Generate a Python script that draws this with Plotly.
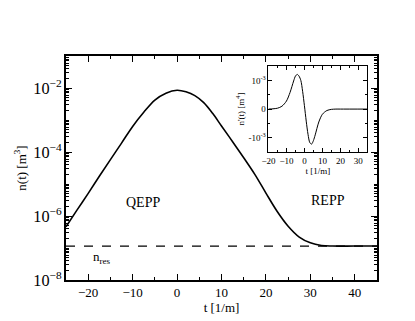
import plotly.graph_objects as go

# Main curve: n(t)
t_main = [-25, -22.5, -20, -17.5, -15, -12.5, -10, -7.5, -5, -2.5, 0, 2, 4, 6, 8, 10,
          12.5, 15, 17.5, 20, 22.5, 25, 27.5, 30, 32.5, 35, 40, 45]
n_main = [4.6e-7, 1.55e-6, 5.1e-6, 1.74e-5, 5.8e-5, 1.9e-4, 6.3e-4, 1.74e-3, 4.2e-3, 6.9e-3,
          8.5e-3, 7.6e-3, 5.8e-3, 3.5e-3, 1.62e-3, 6.5e-4, 2.1e-4, 6.6e-5, 2.0e-5, 5.2e-6,
          1.41e-6, 4.8e-7, 2.2e-7, 1.45e-7, 1.2e-7, 1.15e-7, 1.15e-7, 1.15e-7]
n_res = 1.15e-7
t_limits = [-25, 45]

# Inset: n'(t)
t_inset = [-20, -17.5, -15, -12.5, -10, -8, -6, -5, -4, -3, -2, -1, 0, 1, 2, 3, 4, 5, 6,
           8, 10, 12.5, 15, 17.5, 20, 35]
dn_inset = [0.0, 0.01e-3, 0.03e-3, 0.10e-3, 0.28e-3, 0.58e-3, 0.98e-3, 1.15e-3, 1.21e-3,
            1.15e-3, 1.0e-3, 0.62e-3, 0.12e-3, -0.42e-3, -0.88e-3, -1.17e-3, -1.22e-3,
            -1.10e-3, -0.90e-3, -0.45e-3, -0.18e-3, -0.05e-3, -0.01e-3, 0.0, 0.0, 0.0]
inset_yticks = [-1e-3, 0, 1e-3]
inset_yticktext = ["-10<sup>-3</sup>", "0", "10<sup>-3</sup>"]

FONT = "Times New Roman"

fig = go.Figure()
fig.add_trace(go.Scatter(x=t_main, y=n_main, mode="lines",
                         line=dict(color="black", width=1.6, shape="spline", smoothing=1),
                         xaxis="x", yaxis="y", showlegend=False))
fig.add_trace(go.Scatter(x=t_limits, y=[n_res, n_res], mode="lines",
                         line=dict(color="black", width=1.2, dash="dash"),
                         xaxis="x", yaxis="y", showlegend=False))
fig.add_trace(go.Scatter(x=t_inset, y=dn_inset, mode="lines",
                         line=dict(color="black", width=1, shape="spline", smoothing=0.8),
                         xaxis="x2", yaxis="y2", showlegend=False))

axis_common = dict(showline=True, linecolor="black", mirror="allticks", ticks="inside",
                   showgrid=False, zeroline=False, tickcolor="black")

fig.update_layout(
    width=415, height=321,
    margin=dict(l=48, r=46, t=48, b=49),
    paper_bgcolor="white", plot_bgcolor="white",
    font=dict(family=FONT, size=13, color="black"),
    xaxis=dict(**axis_common, domain=[0, 1], range=t_limits, dtick=10, tick0=0,
               ticklen=6, linewidth=1.5, tickwidth=1.2,
               minor=dict(ticks="inside", dtick=5, ticklen=3, tickcolor="black"),
               title=dict(text="t [1/m]", standoff=2, font=dict(family=FONT, size=13)),
               tickfont=dict(family=FONT, size=13)),
    yaxis=dict(**axis_common, domain=[0, 1], type="log", range=[-8, -1], dtick=2,
               exponentformat="power", ticklen=6, linewidth=1.5, tickwidth=1.2,
               minor=dict(ticks="inside", dtick="D1", ticklen=3, tickcolor="black"),
               title=dict(text="n(t) [m<sup>3</sup>]", standoff=4, font=dict(family=FONT, size=13)),
               tickfont=dict(family=FONT, size=13)),
    xaxis2=dict(**axis_common, domain=[0.651, 0.969], anchor="y2", range=[-20, 35],
                dtick=10, tick0=0, ticklen=4, linewidth=1, tickwidth=1,
                minor=dict(ticks="inside", dtick=5, ticklen=2, tickcolor="black"),
                title=dict(text="t [1/m]", standoff=0, font=dict(family=FONT, size=9)),
                tickfont=dict(family=FONT, size=9)),
    yaxis2=dict(**axis_common, domain=[0.571, 0.955], anchor="x2", range=[-1.5e-3, 1.5e-3],
                tickvals=inset_yticks, ticktext=inset_yticktext, ticklen=4,
                linewidth=1, tickwidth=1,
                minor=dict(ticks="inside", tickvals=[-5e-4, 5e-4], ticklen=2, tickcolor="black"),
                title=dict(text="n'(t) [m<sup>4</sup>]", standoff=2, font=dict(family=FONT, size=9)),
                tickfont=dict(family=FONT, size=9)),
    annotations=[
        dict(x=-7.75, y=-5.59, xref="x", yref="y", text="QEPP", showarrow=False,
             font=dict(family=FONT, size=14)),
        dict(x=34, y=-5.51, xref="x", yref="y", text="REPP", showarrow=False,
             font=dict(family=FONT, size=14)),
        dict(x=-16.9, y=-7.31, xref="x", yref="y", text="n<sub>res</sub>", showarrow=False,
             font=dict(family=FONT, size=13)),
    ],
)

fig.write_html("out.html")
